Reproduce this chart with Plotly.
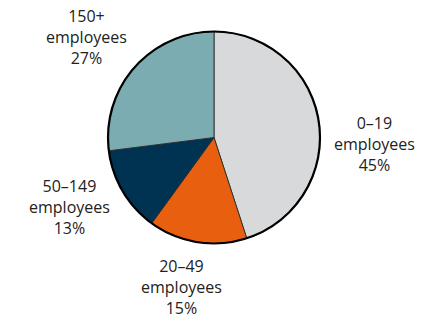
import plotly.graph_objects as go

# Share of firms by size band
categories = ["0–19", "20–49", "50–149", "150+"]
shares = [45, 15, 13, 27]
colors = ["#D8D9DB", "#E8600F", "#003352", "#7BACB2"]

# Label anchor positions (paper coords) for each band
label_x = [0.854, 0.415, 0.159, 0.197]
label_y = [0.551, 0.106, 0.355, 0.885]

W, H = 438, 321
cx, cy, r = 214, 137.5, 106

dom_x = [(cx - r) / W, (cx + r) / W]
dom_y = [1 - (cy + r) / H, 1 - (cy - r) / H]

fig = go.Figure()
fig.add_trace(go.Pie(
    labels=categories,
    values=shares,
    sort=False,
    direction="clockwise",
    rotation=0,
    marker=dict(colors=colors, line=dict(color="#2a2a2a", width=0.9)),
    textinfo="none",
    hoverinfo="label+percent",
    domain=dict(x=dom_x, y=dom_y),
    showlegend=False,
))
# Heavier outer rim drawn as a single full-circle slice
fig.add_trace(go.Pie(
    labels=["rim"],
    values=[1],
    marker=dict(colors=["rgba(0,0,0,0)"], line=dict(color="#000000", width=2.2)),
    textinfo="none",
    hoverinfo="skip",
    domain=dict(x=dom_x, y=dom_y),
    showlegend=False,
))

for cat, val, x, y in zip(categories, shares, label_x, label_y):
    fig.add_annotation(
        x=x, y=y, xref="paper", yref="paper",
        text=f"{cat}<br>employees<br>{val}%",
        showarrow=False,
        align="center",
        xanchor="center", yanchor="middle",
        font=dict(family="Open Sans, sans-serif", size=16, color="#222222"),
    )

fig.update_layout(
    width=W, height=H,
    margin=dict(l=0, r=0, t=0, b=0),
    paper_bgcolor="white",
    plot_bgcolor="white",
)

fig.write_html("out.html")
